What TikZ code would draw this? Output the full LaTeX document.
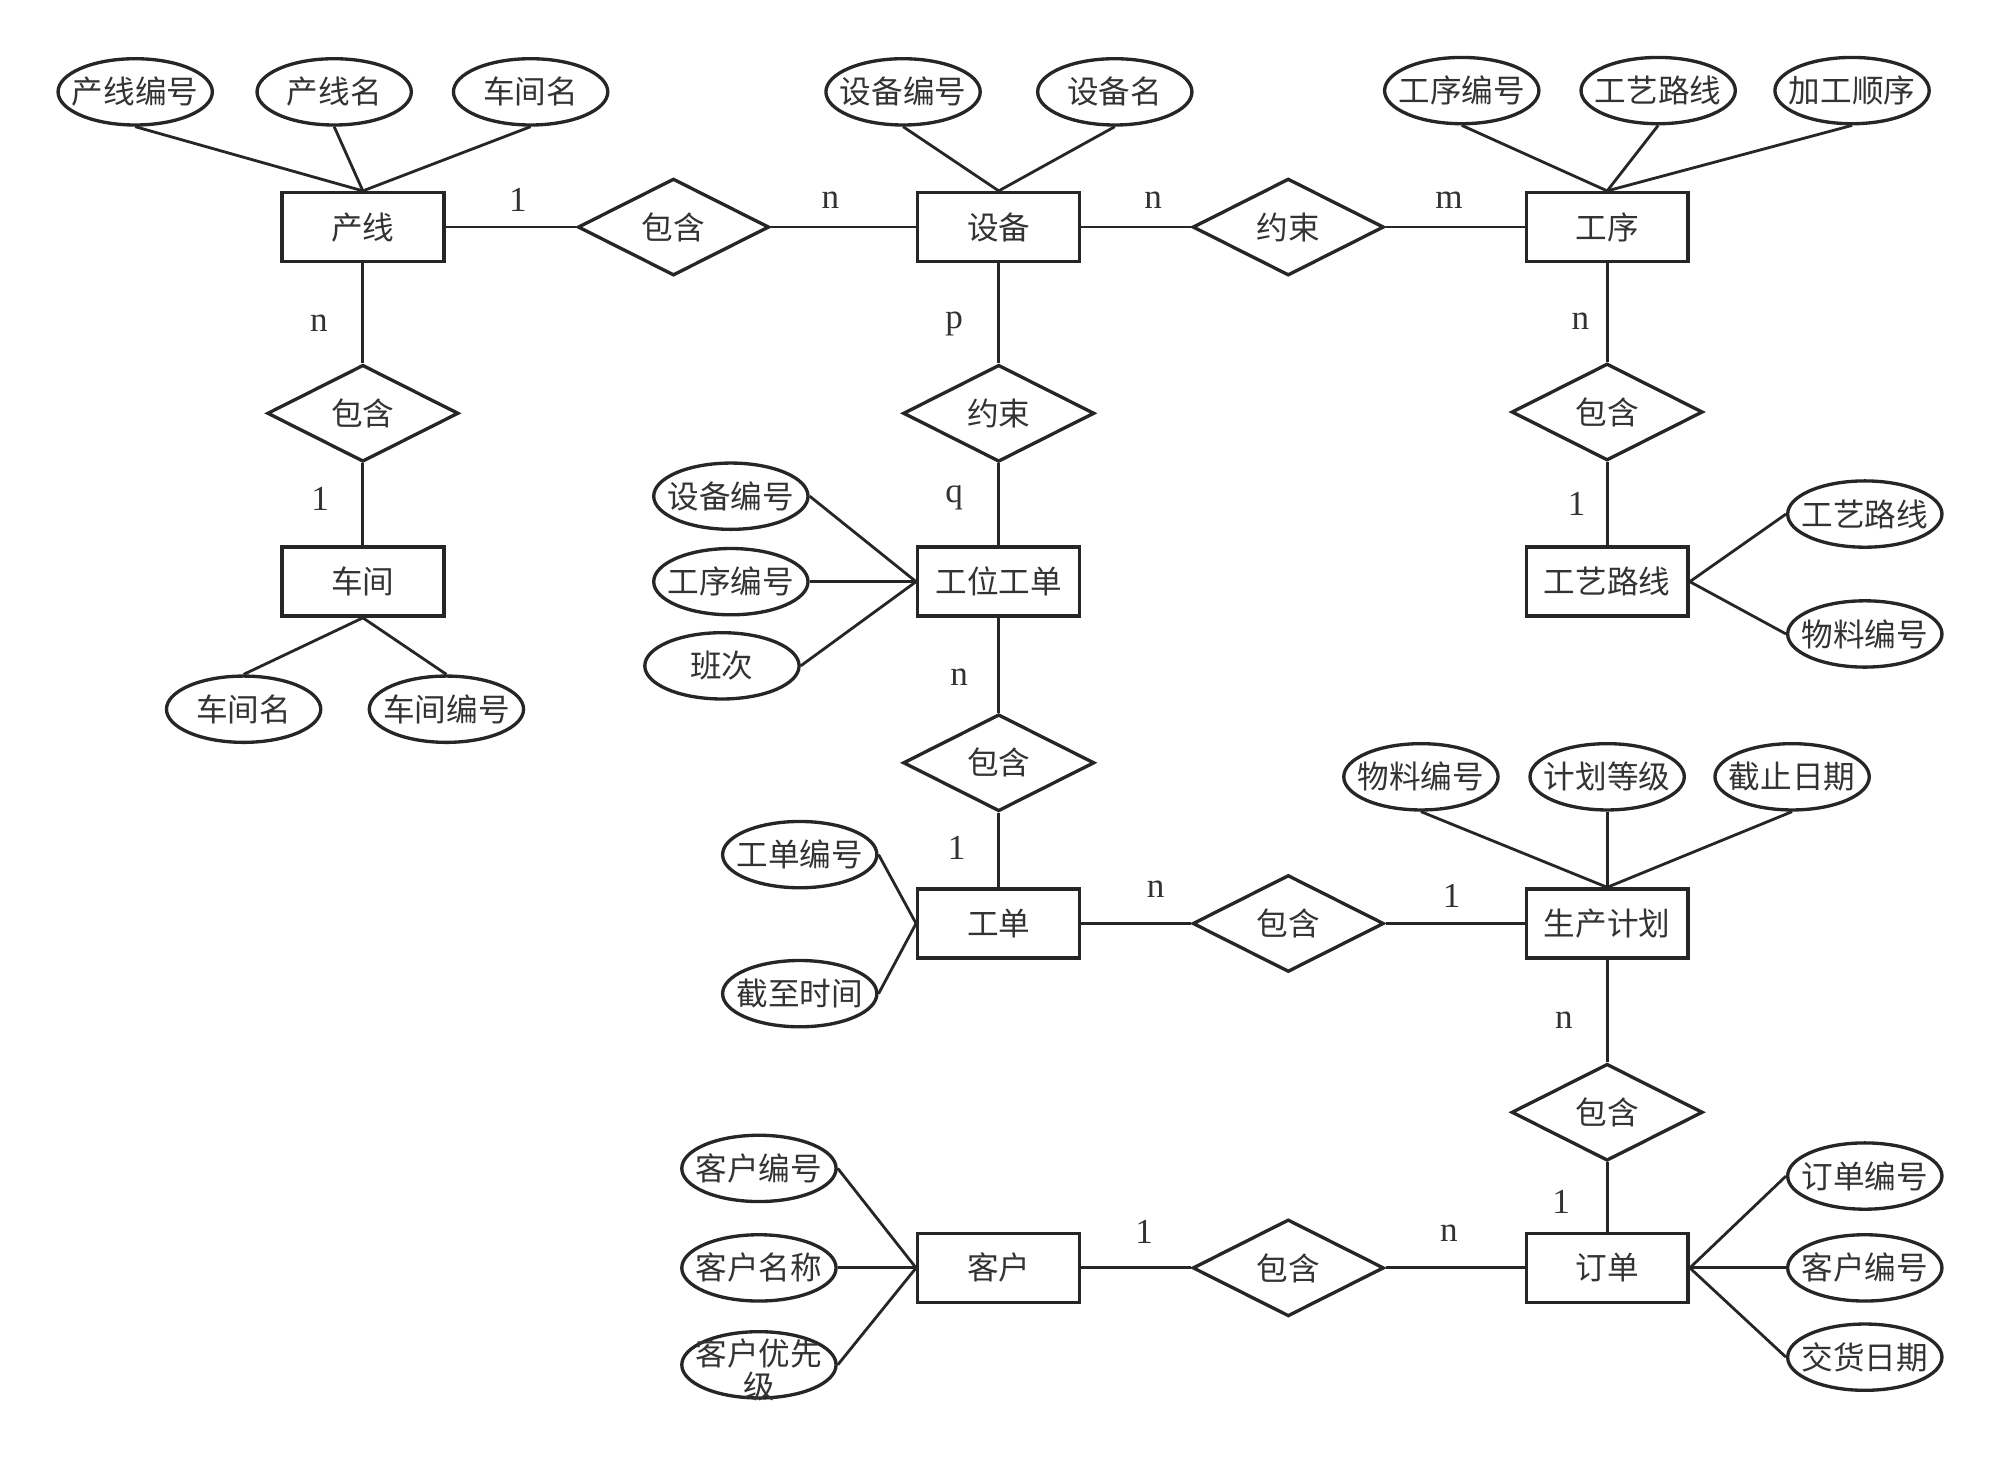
\documentclass[tikz,border=0pt]{standalone}
\usepackage{fontspec}
\setmainfont{Liberation Serif}
\newfontfamily\cjk{Noto Sans CJK SC}
\usetikzlibrary{shapes.geometric}
\newcommand\zw[1]{\makebox[0pt][c]{#1}}
\definecolor{ink}{HTML}{262626}
\definecolor{txt}{HTML}{333333}
\begin{document}
\begin{tikzpicture}[x=0.012755cm, y=-0.012755cm,
  every node/.style={text=txt},
  entity/.style={draw=ink, line width=0.95pt, rectangle, minimum width=1.62cm, minimum height=0.69cm, inner sep=0pt, font=\cjk\fontsize{9}{11}\selectfont},
  attr/.style={draw=ink, line width=0.95pt, ellipse, minimum width=1.543cm, minimum height=0.663cm, inner sep=0pt, font=\cjk\fontsize{9}{11}\selectfont},
  rel/.style={draw=ink, line width=0.95pt, diamond, minimum width=1.913cm, minimum height=0.969cm, inner sep=0pt, font=\cjk\fontsize{9}{11}\selectfont},
  card/.style={font=\fontsize{10}{12}\selectfont, inner sep=0pt},
  conn/.style={draw=ink, line width=0.8pt}
]
\useasboundingbox (0,0) rectangle (1568,1142);

% entities
\node[entity] (cx)   at (284.5,178) {产线};
\node[entity] (sb)   at (783,178)   {设备};
\node[entity] (gx)   at (1260,178)  {工序};
\node[entity] (cj)   at (284.5,456) {车间};
\node[entity] (gwgd) at (783,456)   {工位工单};
\node[entity] (gylx) at (1260,456)  {工艺路线};
\node[entity] (gd)   at (783,724)   {工单};
\node[entity] (scjh) at (1260,724)  {生产计划};
\node[entity] (kh)   at (783,994)   {客户};
\node[entity] (dd)   at (1260,994)  {订单};

% relations
\node[rel] (r1) at (528,178)  {包含};
\node[rel] (r2) at (1010,178) {约束};
\node[rel] (r3) at (284.5,324) {包含};
\node[rel] (r4) at (783,324)  {约束};
\node[rel] (r5) at (1260,323) {包含};
\node[rel] (r6) at (783,598)  {包含};
\node[rel] (r7) at (1010,724) {包含};
\node[rel] (r8) at (1260,872) {包含};
\node[rel] (r9) at (1010,994) {包含};

% attributes
\node[attr] (a1)  at (106,72)   {\zw{产线编号}};
\node[attr] (a2)  at (262,72)   {\zw{产线名}};
\node[attr] (a3)  at (416,72)   {\zw{车间名}};
\node[attr] (a4)  at (708,72)   {\zw{设备编号}};
\node[attr] (a5)  at (874,72)   {\zw{设备名}};
\node[attr] (a6)  at (1146,71)  {\zw{工序编号}};
\node[attr] (a7)  at (1300,71)  {\zw{工艺路线}};
\node[attr] (a8)  at (1452,71)  {\zw{加工顺序}};
\node[attr] (a9)  at (191,556)  {\zw{车间名}};
\node[attr] (a10) at (350,556)  {\zw{车间编号}};
\node[attr] (a11) at (573,389)  {\zw{设备编号}};
\node[attr] (a12) at (573,456)  {\zw{工序编号}};
\node[attr] (a13) at (566,522)  {\zw{班次}};
\node[attr] (a14) at (1462,403) {\zw{工艺路线}};
\node[attr] (a15) at (1462,497) {\zw{物料编号}};
\node[attr] (a16) at (627,670)  {\zw{工单编号}};
\node[attr] (a17) at (627,779)  {\zw{截至时间}};
\node[attr] (a18) at (1114,609) {\zw{物料编号}};
\node[attr] (a19) at (1260,609) {\zw{计划等级}};
\node[attr] (a20) at (1405,609) {\zw{截止日期}};
\node[attr] (a21) at (595,916)  {\zw{客户编号}};
\node[attr] (a22) at (595,994)  {\zw{客户名称}};
\node[attr] (a23) at (595,1070) {};
\node[font=\cjk\fontsize{9}{8}\selectfont, align=center, inner sep=0pt] (a23t) at (595,1074) {\zw{客户优先}\\\zw{级}};
\node[attr] (a24) at (1462,922)  {\zw{订单编号}};
\node[attr] (a25) at (1462,994)  {\zw{客户编号}};
\node[attr] (a26) at (1462,1064) {\zw{交货日期}};

% relationship connectors
\draw[conn] (cx) -- (r1) -- (sb) -- (r2) -- (gx);
\draw[conn] (cx) -- (r3) -- (cj);
\draw[conn] (sb) -- (r4) -- (gwgd) -- (r6) -- (gd);
\draw[conn] (gx) -- (r5) -- (gylx);
\draw[conn] (gd) -- (r7) -- (scjh) -- (r8) -- (dd);
\draw[conn] (kh) -- (r9) -- (dd);

% attribute connectors
\foreach \a in {a1,a2,a3} \draw[conn] (\a.south) -- (cx.north);
\foreach \a in {a4,a5} \draw[conn] (\a.south) -- (sb.north);
\foreach \a in {a6,a7,a8} \draw[conn] (\a.south) -- (gx.north);
\foreach \a in {a9,a10} \draw[conn] (cj.south) -- (\a.north);
\foreach \a in {a11,a12,a13} \draw[conn] (\a.east) -- (gwgd.west);
\foreach \a in {a14,a15} \draw[conn] (gylx.east) -- (\a.west);
\foreach \a in {a16,a17} \draw[conn] (\a.east) -- (gd.west);
\foreach \a in {a18,a19,a20} \draw[conn] (\a.south) -- (scjh.north);
\foreach \a in {a21,a22,a23} \draw[conn] (\a.east) -- (kh.west);
\foreach \a in {a24,a25,a26} \draw[conn] (dd.east) -- (\a.west);

% cardinalities
\node[card] (c1)  at (406,157)  {1};
\node[card] (c2)  at (651,157)  {n};
\node[card] (c3)  at (904,157)  {n};
\node[card] (c4)  at (1136,157) {m};
\node[card] (c5)  at (250,253)  {n};
\node[card] (c6)  at (251,391)  {1};
\node[card] (c7)  at (748,254)  {p};
\node[card] (c8)  at (748,390)  {q};
\node[card] (c9)  at (1239,252) {n};
\node[card] (c10) at (1236,395) {1};
\node[card] (c11) at (752,531)  {n};
\node[card] (c12) at (750,665)  {1};
\node[card] (c13) at (906,697)  {n};
\node[card] (c14) at (1138,702) {1};
\node[card] (c15) at (1226,800) {n};
\node[card] (c16) at (1224,942) {1};
\node[card] (c17) at (897,966)  {1};
\node[card] (c18) at (1136,967) {n};
\end{tikzpicture}
\end{document}
